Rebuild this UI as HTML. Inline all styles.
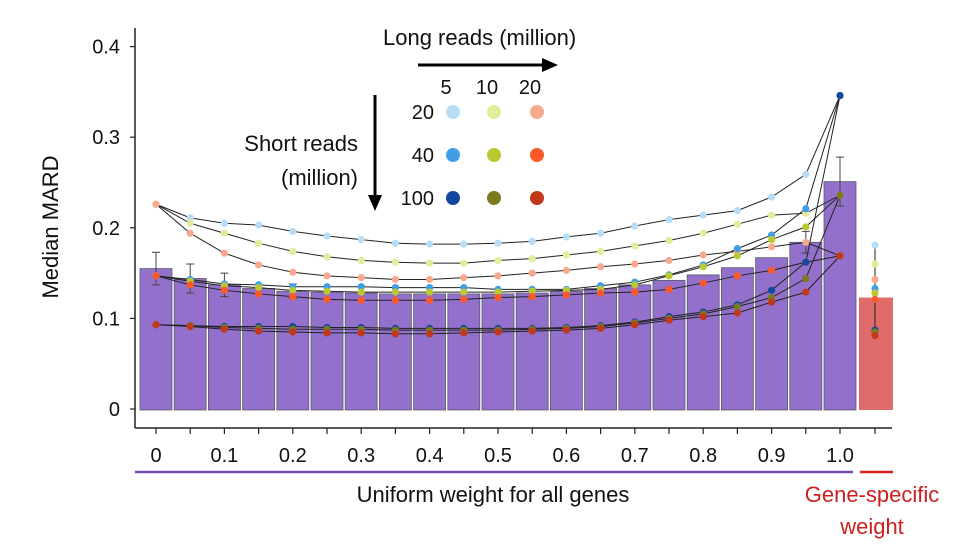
<!DOCTYPE html>
<html><head><meta charset="utf-8"><style>
body{margin:0;background:#fff;}
svg text{font-family:"Liberation Sans",sans-serif;fill:#111;}
</style></head><body>
<svg id="chart" width="970" height="540" xmlns="http://www.w3.org/2000/svg">
<g id="bars"></g>
<g id="lines"></g>
<g id="axes"></g>
<g>
<text x="383" y="45" font-size="22">Long reads (million)</text>
<line x1="418" y1="65" x2="545" y2="65" stroke="#000" stroke-width="3"/>
<polygon points="558,65 542,58 542,72" fill="#000"/>
<text x="358" y="151" font-size="22" text-anchor="end">Short reads</text>
<text x="358" y="185" font-size="22" text-anchor="end">(million)</text>
<line x1="375" y1="95" x2="375" y2="198" stroke="#000" stroke-width="3"/>
<polygon points="375,211 368,195 382,195" fill="#000"/>
<g id="legend-items"></g>
</g>
</svg>
<script>
const weights=["0","0.05","0.1","0.15","0.2","0.25","0.3","0.35","0.4","0.45","0.5","0.55","0.6","0.65","0.7","0.75","0.8","0.85","0.9","0.95","1.0"];
const barValues=[0.155,0.144,0.137,0.133,0.130,0.129,0.128,0.127,0.127,0.127,0.127,0.128,0.130,0.133,0.137,0.142,0.148,0.156,0.167,0.184,0.251];
const geneSpecificBar=0.123;
const yTicks=[0,0.1,0.2,0.3,0.4];
const yTickLabels=["0","0.1","0.2","0.3","0.4"];
const xTickLabels=["0","0.1","0.2","0.3","0.4","0.5","0.6","0.7","0.8","0.9","1.0"];
const s20l5=[0.226,0.211,0.205,0.203,0.196,0.191,0.187,0.183,0.182,0.182,0.183,0.185,0.190,0.194,0.202,0.209,0.214,0.219,0.234,0.259,0.346];
const s20l10=[0.226,0.205,0.194,0.183,0.174,0.168,0.164,0.162,0.161,0.161,0.164,0.166,0.170,0.174,0.180,0.186,0.194,0.204,0.214,0.216,0.236];
const s20l20=[0.226,0.194,0.172,0.159,0.151,0.147,0.145,0.143,0.143,0.145,0.147,0.150,0.153,0.157,0.160,0.164,0.170,0.174,0.179,0.184,0.169];
const s40l5=[0.147,0.143,0.138,0.137,0.135,0.135,0.135,0.134,0.134,0.134,0.132,0.132,0.132,0.136,0.140,0.148,0.159,0.177,0.192,0.221,0.346];
const s40l10=[0.147,0.141,0.136,0.134,0.131,0.130,0.129,0.129,0.129,0.129,0.129,0.130,0.131,0.132,0.137,0.147,0.157,0.169,0.187,0.201,0.236];
const s40l20=[0.147,0.137,0.131,0.127,0.124,0.121,0.120,0.120,0.120,0.121,0.123,0.124,0.126,0.128,0.129,0.132,0.139,0.147,0.153,0.162,0.169];
const s100l5=[0.093,0.092,0.091,0.091,0.091,0.090,0.090,0.089,0.089,0.089,0.089,0.089,0.090,0.092,0.096,0.102,0.107,0.115,0.131,0.162,0.346];
const s100l10=[0.093,0.092,0.090,0.089,0.088,0.088,0.088,0.087,0.087,0.087,0.087,0.088,0.089,0.091,0.095,0.100,0.105,0.113,0.123,0.144,0.236];
const s100l20=[0.093,0.091,0.088,0.086,0.085,0.084,0.084,0.083,0.083,0.084,0.085,0.086,0.087,0.089,0.093,0.098,0.102,0.106,0.118,0.129,0.169];
const geneSpecificPoints=[0.181,0.160,0.143,0.133,0.128,0.121,0.087,0.085,0.081];
const seriesNames=["s20-l5","s20-l10","s20-l20","s40-l5","s40-l10","s40-l20","s100-l5","s100-l10","s100-l20"];
const colors=["#b8dcf5","#e3ec9a","#f6a98e","#3f9fe6","#bcc832","#fb5a28","#1347a0","#7c7a1e","#c2381a"];

const NS="http://www.w3.org/2000/svg";
function X(i){return 156+34.2*i;}
function Y(v){return 409-906*v;}
const geneX=875;
function mk(tag,attrs,parent){const e=document.createElementNS(NS,tag);for(const k in attrs)e.setAttribute(k,attrs[k]);parent.appendChild(e);return e;}
const bars=document.getElementById('bars'),lines=document.getElementById('lines'),axes=document.getElementById('axes'),leg=document.getElementById('legend-items');

barValues.forEach((v,i)=>{
 const r=mk('rect',{x:X(i)-16,y:Y(v),width:32,height:Y(0)-Y(v)+1,fill:'#9270cb',stroke:'#5a5a6a','stroke-width':0.8},bars);
 
 
});
const rb=mk('rect',{x:geneX-16,y:Y(geneSpecificBar),width:34,height:Y(0)-Y(geneSpecificBar)+1,fill:'#e06b6b'},bars);


// error bars
[[0,0.018],[1,0.016],[2,0.013],[4,0.008],[19,0.012],[20,0.027]].forEach(([i,e])=>{
 const g=mk('path',{d:`M${X(i)},${Y(barValues[i]-e)}V${Y(barValues[i]+e)}M${X(i)-4},${Y(barValues[i]-e)}h8M${X(i)-4},${Y(barValues[i]+e)}h8`,stroke:'#444','stroke-width':1,fill:'none'},bars);
 
 
});

const allSeries=[s20l5,s20l10,s20l20,s40l5,s40l10,s40l20,s100l5,s100l10,s100l20];
allSeries.forEach((s,k)=>{
 const p=mk('polyline',{points:s.map((v,i)=>X(i)+','+Y(v)).join(' '),fill:'none',stroke:'#222','stroke-width':1},lines);
 
 
});
const gl=mk('line',{x1:geneX,x2:geneX,y1:Y(Math.max(...geneSpecificPoints)),y2:Y(Math.min(...geneSpecificPoints)),stroke:'#222','stroke-width':1},lines);


allSeries.forEach((s,k)=>{
 s.forEach((v,i)=>{
  const c=mk('circle',{cx:X(i),cy:Y(v),r:3.6,fill:colors[k]},lines);
  
  
 });
 const c=mk('circle',{cx:geneX,cy:Y(geneSpecificPoints[k]),r:3.6,fill:colors[k]},lines);
 
 
});

// axes
let a=mk('line',{x1:135,x2:135,y1:28,y2:428,stroke:'#222','stroke-width':1.5},axes);


a=mk('line',{x1:135,x2:892,y1:428,y2:428,stroke:'#222','stroke-width':1.5},axes);


yTicks.forEach((v,i)=>{
 const t=mk('line',{x1:130,x2:135,y1:Y(v),y2:Y(v),stroke:'#222','stroke-width':1.2},axes);
 
 
 const tx=mk('text',{x:120,y:Y(v)+7,'font-size':20,'text-anchor':'end'},axes);
 tx.textContent=yTickLabels[i];
 
 
});
for(let i=0;i<=21;i++){
 const x=i<21?X(i):geneX;
 const t=mk('line',{x1:x,x2:x,y1:428,y2:434,stroke:'#222','stroke-width':1.2},axes);
 
 
}
xTickLabels.forEach((l,i)=>{
 const tx=mk('text',{x:X(i*2),y:462,'font-size':20,'text-anchor':'middle'},axes);
 tx.textContent=l;
 
 
});
a=mk('line',{x1:135,x2:853,y1:472,y2:472,stroke:'#7a4fb5','stroke-width':2.5},axes);


a=mk('line',{x1:860,x2:893,y1:472,y2:472,stroke:'#d62020','stroke-width':2.5},axes);


let t=mk('text',{x:493,y:502,'font-size':22,'text-anchor':'middle'},axes);
t.textContent='Uniform weight for all genes';


t=mk('text',{x:872,y:502,'font-size':22,'text-anchor':'middle',style:'fill:#cc2020'},axes);
t.textContent='Gene-specific';


t=mk('text',{x:872,y:534,'font-size':22,'text-anchor':'middle',style:'fill:#cc2020'},axes);
t.textContent='weight';


t=mk('text',{x:0,y:0,'font-size':22,'text-anchor':'middle',transform:'translate(58,227) rotate(-90)'},axes);
t.textContent='Median MARD';



// legend
const legCols=["5","10","20"],legRows=["20","40","100"],legX=[453,494,537],legY=[112,155,198];
legCols.forEach((c,j)=>{
 const tx=mk('text',{x:legX[j]-7,y:94,'font-size':20,'text-anchor':'middle'},leg);
 tx.textContent=c;
 
 
});
legRows.forEach((r,i)=>{
 const tx=mk('text',{x:434,y:legY[i]+7,'font-size':20,'text-anchor':'end'},leg);
 tx.textContent=r;
 
 
 legCols.forEach((c,j)=>{
  const d=mk('circle',{cx:legX[j],cy:legY[i],r:7,fill:colors[i*3+j]},leg);
  
  
 });
});
</script>
</body></html>
